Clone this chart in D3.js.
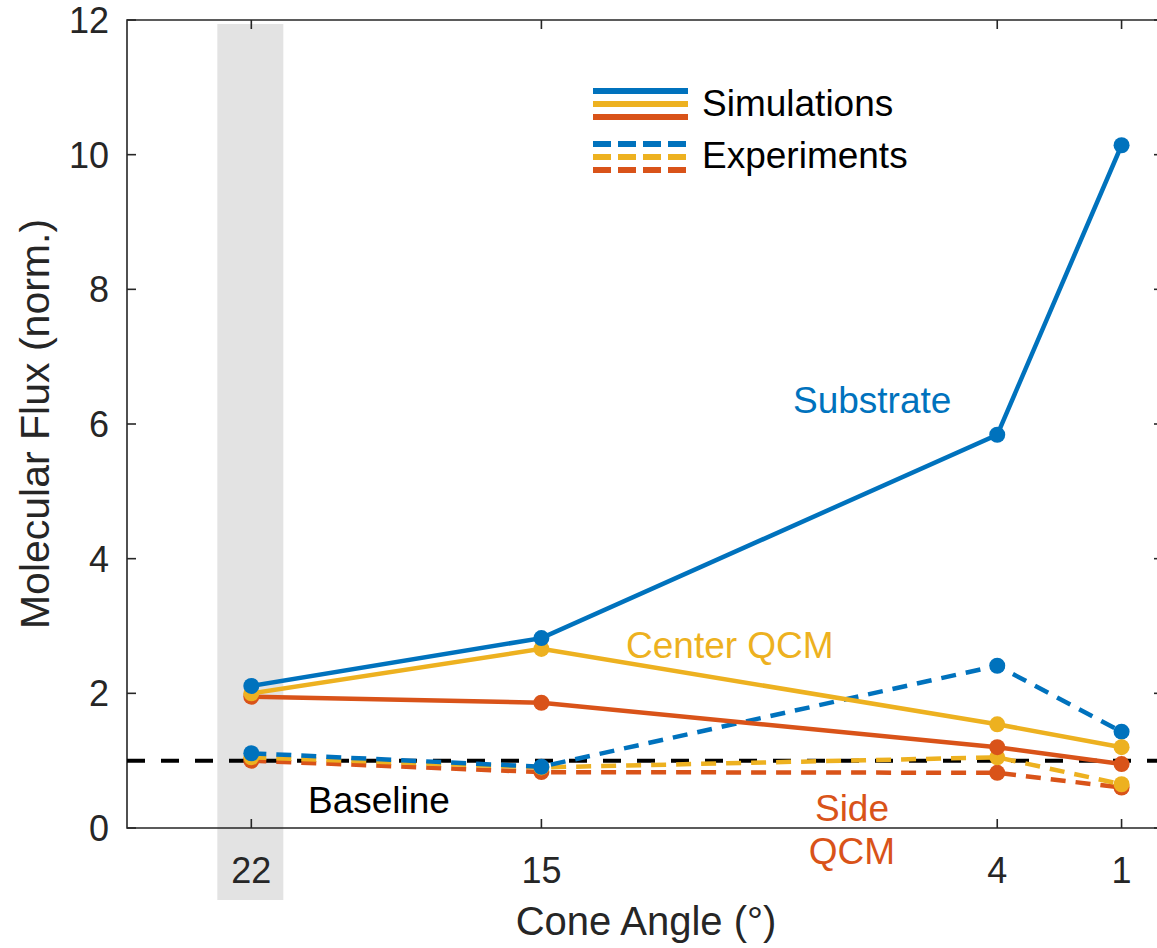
<!DOCTYPE html>
<html>
<head>
<meta charset="utf-8">
<script src="https://cdn.jsdelivr.net/npm/d3@7"></script>
<style>
  body { margin: 0; background: #fff; }
  text { font-family: "Liberation Sans", Arial, sans-serif; }
</style>
</head>
<body>
<div id="vis"></div>
<script>
// data
const angles = [22, 15, 4, 1];
const simSubstrate = [2.11, 2.82, 5.84, 10.14];
const simCenter = [2.0, 2.66, 1.54, 1.2];
const simSide = [1.95, 1.86, 1.2, 0.95];
const expSubstrate = [1.11, 0.91, 2.41, 1.43];
const expCenter = [1.05, 0.9, 1.05, 0.65];
const expSide = [1.0, 0.83, 0.82, 0.6];
const yTicks = [0, 2, 4, 6, 8, 10, 12];
const baseline = 1;

const blue = "#0072BD", yellow = "#EDB120", red = "#D95319";
const axisCol = "#262626";

const W = 1157, H = 948;
const svg = d3.select("#vis").append("svg").attr("width", W).attr("height", H);

const x = d3.scaleLinear().domain([25, 0]).range([127, 1163]);
const y = d3.scaleLinear().domain([0, 12]).range([828, 20]);

// grey band behind 22
svg.append("rect")
   .attr("x", x(22) - 34).attr("y", 24)
   .attr("width", 66).attr("height", 876)
   .attr("fill", "#e3e3e3");

// axes box
const box = svg.append("g").attr("stroke", axisCol).attr("stroke-width", 1.6).attr("fill", "none");
box.append("path").attr("d", `M${x(25)},${y(0)}H${x(0)}V${y(12)}H${x(25)}Z`);

// ticks pointing inward
angles.forEach(a => {
  box.append("line").attr("x1", x(a)).attr("x2", x(a)).attr("y1", y(0)).attr("y2", y(0) - 9);
  box.append("line").attr("x1", x(a)).attr("x2", x(a)).attr("y1", y(12)).attr("y2", y(12) + 9);
});
yTicks.forEach(t => {
  box.append("line").attr("x1", x(25)).attr("x2", x(25) + 9).attr("y1", y(t)).attr("y2", y(t));
  box.append("line").attr("x1", x(0)).attr("x2", x(0) - 9).attr("y1", y(t)).attr("y2", y(t));
});

// tick labels
svg.selectAll(".yt").data(yTicks).enter().append("text")
   .attr("x", 109).attr("y", d => y(d) + 13)
   .attr("text-anchor", "end").attr("font-size", 36).attr("fill", axisCol)
   .text(d => d);
svg.selectAll(".xt").data(angles).enter().append("text")
   .attr("x", d => x(d)).attr("y", 883)
   .attr("text-anchor", "middle").attr("font-size", 36).attr("fill", axisCol)
   .text(d => d);

svg.append("text").attr("x", 646).attr("y", 935)
   .attr("text-anchor", "middle").attr("font-size", 40).attr("fill", axisCol)
   .text("Cone Angle (°)");
svg.append("text").attr("transform", "translate(49,424) rotate(-90)")
   .attr("text-anchor", "middle").attr("font-size", 41).attr("fill", axisCol)
   .text("Molecular Flux (norm.)");

// baseline
svg.append("line")
   .attr("x1", x(25)).attr("x2", x(0)).attr("y1", y(baseline)).attr("y2", y(baseline))
   .attr("stroke", "#000").attr("stroke-width", 4).attr("stroke-dasharray", "18,16");

const line = d3.line().x((d, i) => x(angles[i])).y(d => y(d));

const series = [
  {v: expSide, c: red, dash: true},
  {v: expCenter, c: yellow, dash: true},
  {v: expSubstrate, c: blue, dash: true},
  {v: simSide, c: red, dash: false},
  {v: simCenter, c: yellow, dash: false},
  {v: simSubstrate, c: blue, dash: false}
];

series.forEach(s => {
  svg.append("path").datum(s.v)
     .attr("d", line).attr("fill", "none")
     .attr("stroke", s.c).attr("stroke-width", 4.5)
     .attr("stroke-dasharray", s.dash ? "15,10" : null);
  svg.selectAll(null).data(s.v).enter().append("circle")
     .attr("cx", (d, i) => x(angles[i])).attr("cy", d => y(d))
     .attr("r", 8).attr("fill", s.c);
});

// series labels
svg.append("text").attr("x", 793).attr("y", 413).attr("font-size", 37).attr("fill", blue).text("Substrate");
svg.append("text").attr("x", 626).attr("y", 658).attr("font-size", 37).attr("fill", yellow).text("Center QCM");
svg.append("text").attr("x", 852).attr("y", 821).attr("text-anchor", "middle").attr("font-size", 37).attr("fill", red).text("Side");
svg.append("text").attr("x", 852).attr("y", 864).attr("text-anchor", "middle").attr("font-size", 37).attr("fill", red).text("QCM");
svg.append("text").attr("x", 308).attr("y", 813).attr("font-size", 37).attr("fill", "#000").text("Baseline");

// legend
const leg = svg.append("g");
[blue, yellow, red].forEach((c, i) => {
  leg.append("line").attr("x1", 593).attr("x2", 688)
     .attr("y1", 91 + i * 13).attr("y2", 91 + i * 13)
     .attr("stroke", c).attr("stroke-width", 6);
  leg.append("line").attr("x1", 593).attr("x2", 688)
     .attr("y1", 144 + i * 13).attr("y2", 144 + i * 13)
     .attr("stroke", c).attr("stroke-width", 6).attr("stroke-dasharray", "18,7");
});
leg.append("text").attr("x", 702).attr("y", 116).attr("font-size", 37).attr("fill", "#000").text("Simulations");
leg.append("text").attr("x", 702).attr("y", 168).attr("font-size", 37).attr("fill", "#000").text("Experiments");
</script>
</body>
</html>
